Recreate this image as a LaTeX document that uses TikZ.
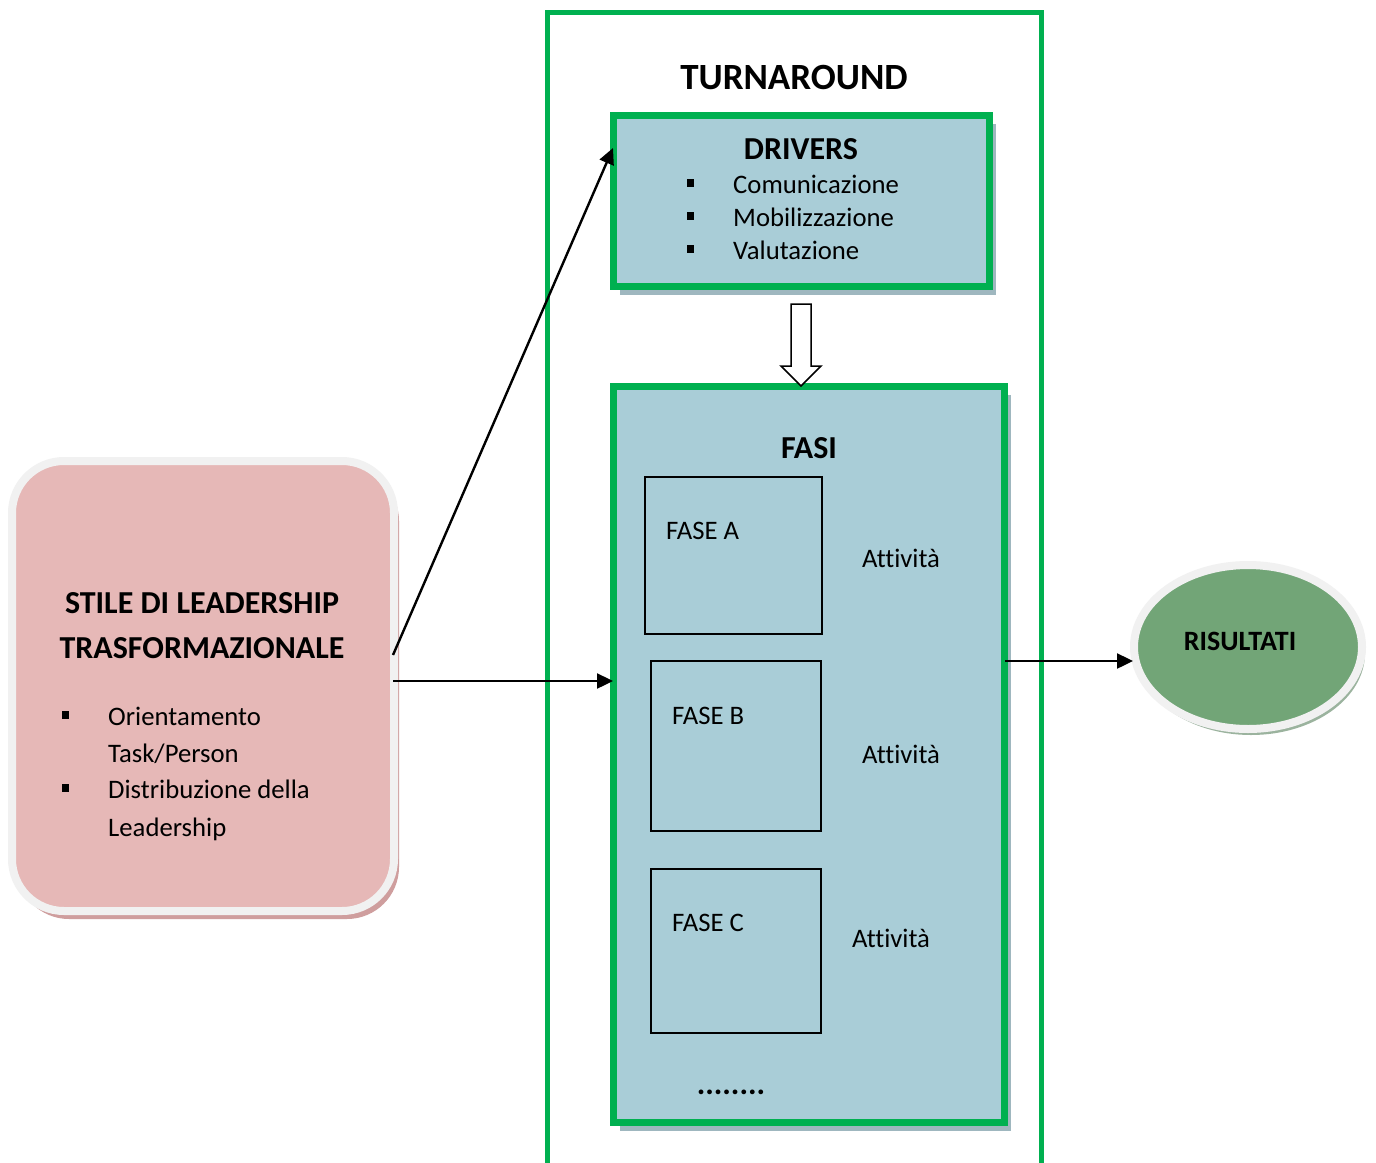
\documentclass[tikz,border=0pt]{standalone}
\usepackage{fontspec}
\setmainfont{Carlito}[Ligatures={NoCommon}]
\usetikzlibrary{arrows.meta,shadows,shapes.geometric,calc}

\definecolor{framegreen}{HTML}{00B050}
\definecolor{panelblue}{HTML}{A9CDD7}
\definecolor{panelshadow}{HTML}{9FB7BF}
\definecolor{rosefill}{HTML}{E6B8B7}
\definecolor{roseshadow}{HTML}{CF9E9E}
\definecolor{rimgray}{HTML}{F1F1F1}
\definecolor{leafgreen}{HTML}{72A577}
\definecolor{leafshadow}{HTML}{9BB39E}

\newcommand{\sqbul}{\llap{\rule[6pt]{7pt}{8pt}\hspace{39pt}}}

\begin{document}
\begin{tikzpicture}[x=1pt,y=-1pt,
  body/.style={font=\fontsize{26.7}{32}\selectfont, inner sep=0pt},
  head/.style={font=\bfseries\fontsize{32}{38}\selectfont, inner sep=0pt},
  panel/.style={rectangle, draw=framegreen, line width=7pt, fill=panelblue,
    drop shadow={shadow xshift=6pt, shadow yshift=-8pt, fill=panelshadow, opacity=1}},
  phasebox/.style={rectangle, draw=black, line width=1.5pt, inner sep=0pt},
  arr/.style={line width=2.4pt, -{Triangle[length=16pt,width=15pt]}},
]
\useasboundingbox (0,0) rectangle (1376,1162);
\clip (0,0) rectangle (1376,1162);
\fill[white] (0,0) rectangle (1376,1162);

% outer turnaround frame, open at the bottom
\draw[framegreen, line width=5pt] (547.5,1180) -- (547.5,12) -- (1041,12) -- (1041,1180);
\node[inner sep=0pt, font=\bfseries\fontsize{37}{44}\selectfont, anchor=base] (turn) at (794,89) {TURNAROUND};

% drivers panel
\node[panel, minimum width=376pt, minimum height=171pt] (drv) at (801.5,201) {};
\node[head, anchor=base] (drvt) at (801,159) {DRIVERS};
\node[body, anchor=base west] (d1) at (733,193) {\sqbul Comunicazione};
\node[body, anchor=base west] (d2) at (733,226) {\sqbul Mobilizzazione};
\node[body, anchor=base west] (d3) at (733,259) {\sqbul Valutazione};

% phases panel
\node[panel, minimum width=391pt, minimum height=736pt] (fasi) at (809,754.5) {};
\node[head, anchor=base] (fasit) at (809,458) {FASI};

% hollow block arrow from drivers to phases
\draw[line width=1.5pt, fill=white, line join=miter]
  (791,304) -- (811,304) -- (811,366) -- (821,366) -- (801,386) -- (781,366) -- (791,366) -- cycle;

\node[phasebox, minimum width=177pt, minimum height=157pt] (fa) at (733.5,555.5) {};
\node[phasebox, minimum width=170pt, minimum height=170pt] (fb) at (736,746) {};
\node[phasebox, minimum width=170pt, minimum height=164pt] (fc) at (736,951) {};
\node[body, anchor=base west] (fat) at (666,539) {FASE A};
\node[body, anchor=base west] (fbt) at (672,724) {FASE B};
\node[body, anchor=base west] (fct) at (672,931) {FASE C};
\node[body, anchor=base] (aa) at (901,567) {Attività};
\node[body, anchor=base] (ab) at (901,763) {Attività};
\node[body, anchor=base] (ac) at (891,947) {Attività};
\node[head, anchor=base] (dots) at (731,1094) {........};

% leadership style box
\node[rectangle, rounded corners=52pt, draw=rimgray, line width=8pt, fill=rosefill,
  minimum width=382pt, minimum height=450pt,
  drop shadow={shadow xshift=5pt, shadow yshift=-8pt, fill=roseshadow, opacity=1}]
  (lead) at (203,686) {};
\node[head, anchor=base] (l1) at (202,613) {STILE DI LEADERSHIP};
\node[head, anchor=base] (l2) at (202,658) {TRASFORMAZIONALE};
\node[body, anchor=base west] (b1) at (108,725) {\sqbul Orientamento};
\node[body, anchor=base west] (b2) at (108,762) {Task/Person};
\node[body, anchor=base west] (b3) at (108,798) {\sqbul Distribuzione della};
\node[body, anchor=base west] (b4) at (108,836) {Leadership};

% results ellipse
\node[ellipse, draw=rimgray, line width=8pt, fill=leafgreen,
  minimum width=228pt, minimum height=164pt, inner sep=0pt,
  drop shadow={shadow xshift=3pt, shadow yshift=-6pt, fill=leafshadow, opacity=1}]
  (res) at (1248,647) {};
\node[inner sep=0pt, font=\bfseries\fontsize{28}{33}\selectfont, anchor=base] (rest) at (1240,650) {RISULTATI};

% connectors
\coordinate (rin) at (1133,661);
\draw[arr] ($(lead.east)+(-5,-31)$) -- ($(drv.west)+(3,-53)$);
\draw[arr] ($(lead.east)+(-5,-5)$) -- ($(fasi.west |- 0,681)+(3,0)$);
\draw[arr] ($(fasi.east |- rin)+(-3,0)$) -- (rin);
\end{tikzpicture}
\end{document}
